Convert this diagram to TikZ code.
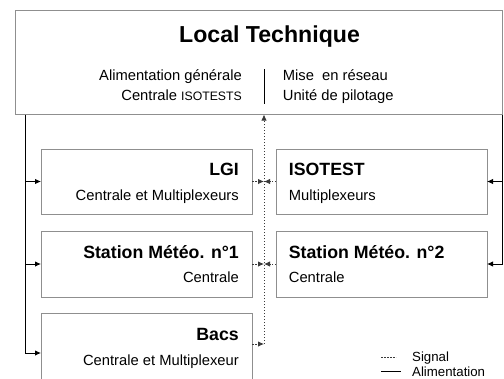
\documentclass[tikz,border=0pt]{standalone}
\usepackage{fontspec}
\setmainfont{Liberation Sans}
\usetikzlibrary{arrows.meta}
\definecolor{boxgray}{HTML}{8F8F8F}
\definecolor{sig}{HTML}{3A3A3A}
\tikzset{
  box/.style={draw=boxgray, line width=0.9bp, rectangle, inner sep=0pt, outer sep=0pt, anchor=north west},
  power/.style={draw=black, line width=0.9bp},
  signal/.style={draw=sig, line width=0.9bp, dash pattern=on 1.5bp off 1.5bp},
  tip/.style={-{Latex[length=6bp,width=5.5bp]}},
  bigtitle/.style={font=\fontsize{23.2}{28}\selectfont\bfseries, inner sep=0pt, anchor=base},
  ttl/.style={font=\fontsize{17.8}{21}\selectfont\bfseries, inner sep=0pt},
  txt/.style={font=\fontsize{14.8}{17}\selectfont, inner sep=0pt},
  leg/.style={font=\fontsize{13.3}{16}\selectfont, inner sep=0pt, anchor=base west},
}
\begin{document}
\begin{tikzpicture}[x=1bp,y=-1bp]
\useasboundingbox (0,0) rectangle (504,378);
\clip (0,0) rectangle (504,378);
% boxes
\node[box, minimum width=487.5bp, minimum height=104.5bp] (top) at (15,10) {};
\node[box, minimum width=211bp, minimum height=65bp] (lgi) at (41,149) {};
\node[box, minimum width=211bp, minimum height=65bp] (iso) at (276,149) {};
\node[box, minimum width=211bp, minimum height=66bp] (st1) at (41,231) {};
\node[box, minimum width=211bp, minimum height=66bp] (st2) at (276,231) {};
\node[box, minimum width=211bp, minimum height=90bp] (bacs) at (41,313) {};
% top texts
\node[bigtitle] (ttop) at (269.5,42.7) {Local Technique};
\node[txt, anchor=base east] (t1) at (242,80) {Alimentation générale};
\node[txt, anchor=base east] (t2) at (242,100) {Centrale {\fontsize{12.3}{14}\selectfont ISOTESTS}};
\node[txt, anchor=base west] (t3) at (282.7,80) {Mise~~en réseau};
\node[txt, anchor=base west] (t4) at (282.7,100) {Unité de pilotage};
\coordinate (sep1) at (264.3,69);
\coordinate (sep2) at (264.3,104);
\draw[power] (sep1) -- (sep2);
% inner texts
\node[ttl, anchor=base east] (lgit) at (239,175.7) {LGI};
\node[txt, anchor=base east] (lgis) at (239,200) {Centrale et Multiplexeurs};
\node[ttl, anchor=base west] (isot) at (288.7,175.7) {ISOTEST};
\node[txt, anchor=base west] (isos) at (288.7,200) {Multiplexeurs};
\node[ttl, anchor=base east] (st1t) at (239,258.3) {Station Météo. n°1};
\node[txt, anchor=base east] (st1s) at (239,282.7) {Centrale};
\node[ttl, anchor=base west] (st2t) at (288.7,258.3) {Station Météo. n°2};
\node[txt, anchor=base west] (st2s) at (288.7,282.7) {Centrale};
\node[ttl, anchor=base east] (bacst) at (239,340.7) {Bacs};
\node[txt, anchor=base east] (bacss) at (239,365) {Centrale et Multiplexeur};
% power lines
\coordinate (pl1) at (25,114.5);
\coordinate (pl2) at (25,353);
\draw[power] (pl1) -- (pl2);
\draw[power,tip] (pl1 |- lgi.west) -- (lgi.west);
\draw[power,tip] (pl1 |- st1.west) -- (st1.west);
\draw[power,tip] (pl2) -- (pl2 -| bacs.west);
\coordinate (pr1) at (502,114.5);
\draw[power,tip] (pr1) -- (pr1 |- st2.east) -- (st2.east);
\draw[power,tip] (pr1 |- iso.east) -- (iso.east);
% signal lines
\coordinate (sb) at (264,344);
\draw[signal,tip] (sb) -- (sb |- top.south);
\draw[signal,tip] (lgi.east) -- (lgi.east -| sb);
\draw[signal,tip] (iso.west) -- (iso.west -| sb);
\draw[signal,tip] (st1.east) -- (st1.east -| sb);
\draw[signal,tip] (st2.west) -- (st2.west -| sb);
\draw[signal,tip] (sb -| bacs.east) -- (sb);
% legend
\coordinate (ls1) at (381,357);
\coordinate (ls2) at (396,357);
\coordinate (la1) at (381,371.5);
\coordinate (la2) at (401,371.5);
\draw[signal] (ls1) -- (ls2);
\draw[power] (la1) -- (la2);
\node[leg] (lsig) at (412,361.8) {Signal};
\node[leg] (lali) at (412,376) {Alimentation};
\end{tikzpicture}
\end{document}
